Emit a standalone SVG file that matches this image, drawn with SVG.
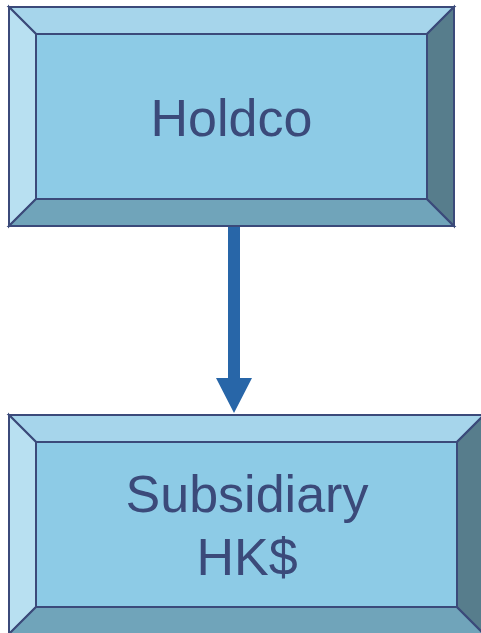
<svg xmlns="http://www.w3.org/2000/svg" width="481" height="633" viewBox="0 0 481 633">
<style>
.e{stroke:#3B4A7A;stroke-width:2;stroke-linejoin:miter}
.top{fill:#A6D5EB}
.left{fill:#B8E0F1}
.face{fill:#8DCBE6}
.bot{fill:#70A4BA}
.right{fill:#577D8C}
.t{font-family:"Liberation Sans",Arial,sans-serif;font-size:52px;fill:#3B4A7A;text-anchor:middle}
</style>
<rect width="481" height="633" fill="#FFFFFF"/>
<g id="holdco">
<polygon class="top e" points="9,7 454,7 427,34 36,34"/>
<polygon class="left e" points="9,7 36,34 36,199 9,226"/>
<polygon class="bot e" points="9,226 36,199 427,199 454,226"/>
<polygon class="right e" points="454,7 454,226 427,199 427,34"/>
<rect class="face e" x="36" y="34" width="391" height="165"/>
<text class="t" x="231.5" y="136">Holdco</text>
</g>
<g id="subsidiary">
<polygon class="top e" points="9,415 484,415 457,442 36,442"/>
<polygon class="left e" points="9,415 36,442 36,607 9,634"/>
<polygon class="bot e" points="9,634 36,607 457,607 484,634"/>
<polygon class="right e" points="484,415 484,634 457,607 457,442"/>
<rect class="face e" x="36" y="442" width="421" height="165"/>
<text class="t" x="247" y="512">Subsidiary</text>
<text class="t" x="247" y="575">HK$</text>
</g>
<g id="connectors">
<polygon fill="#2866A8" points="228,227 240,227 240,378 252,378 234,413 216,378 228,378"/>
</g>
</svg>
